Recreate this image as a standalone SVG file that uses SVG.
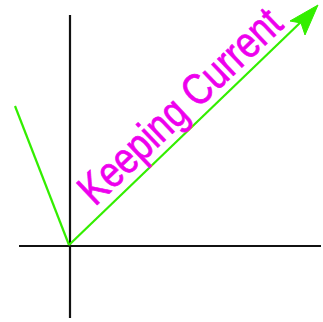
<svg xmlns="http://www.w3.org/2000/svg" width="323" height="322" viewBox="0 0 323 322">
<style>
.axis{stroke:#111;stroke-width:2.2;fill:none}
.vec{stroke:#33ee00;stroke-width:2.2;fill:none}
.head{fill:#33ee00;stroke:#33ee00;stroke-width:1}
.lbl{font-family:"Liberation Sans",Arial,sans-serif;font-size:36px;fill:#ee00ee;stroke:#ee00ee;stroke-width:0.6}
</style>
<g id="connectors">
<line class="axis" x1="70" y1="15" x2="70" y2="318"/>
<line class="axis" x1="19" y1="246" x2="321" y2="246"/>
<line class="vec" x1="69" y1="245" x2="15" y2="106"/>
<line class="vec" x1="69" y1="245" x2="303" y2="20"/>
<polygon class="head" points="318,5 305,35 301,23 290,21"/>
</g>
<g id="label">
<text class="lbl" transform="translate(95,207) rotate(-43.5) scale(1,1.22)">Keeping Current</text>
</g>
</svg>
